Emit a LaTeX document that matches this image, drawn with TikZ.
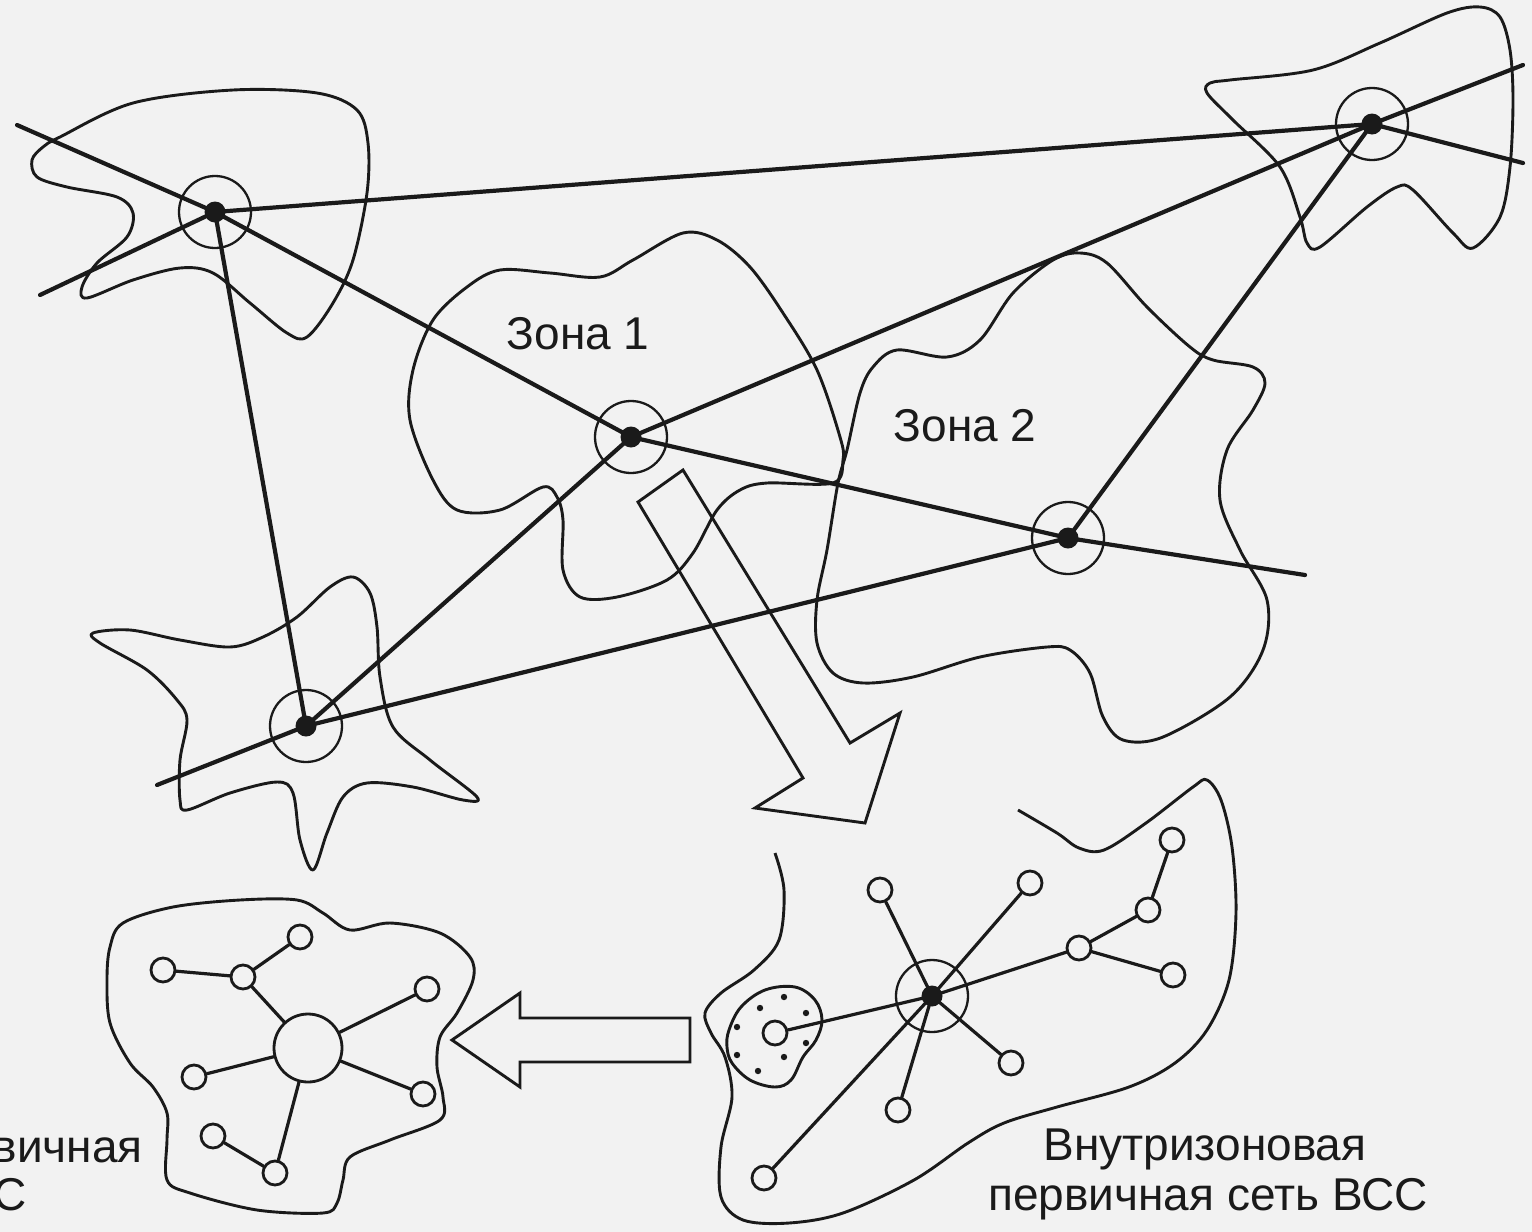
\documentclass[tikz,border=0pt]{standalone}
\usepackage{fontspec}
\setmainfont{Liberation Sans}
\definecolor{bg}{HTML}{F2F2F2}
\definecolor{ink}{HTML}{1A1A1A}
\begin{document}
\begin{tikzpicture}[x=1pt,y=-1pt,
  blob/.style={draw=ink, line width=2.9pt, line join=round},
  link/.style={draw=ink, line width=4.2pt, line cap=round},
  sublink/.style={draw=ink, line width=3.2pt, line cap=round},
  ring/.style={circle, draw=ink, line width=2.3pt, minimum size=72pt, inner sep=0pt},
  hubdot/.style={circle, fill=ink, minimum size=21pt, inner sep=0pt},
  leaf/.style={circle, draw=ink, line width=2.8pt, fill=bg, minimum size=24pt, inner sep=0pt},
  bigleaf/.style={circle, draw=ink, line width=2.8pt, fill=bg, minimum size=68pt, inner sep=0pt},
  lbl/.style={font=\fontsize{46}{50}\selectfont, inner sep=0pt, text=ink},
  hollow/.style={draw=ink, line width=2.9pt, line join=miter},
]
\fill[bg] (0,0) rectangle (1532,1232);
\useasboundingbox (0,0) rectangle (1532,1232);

% ---------- blobs ----------
\draw[blob] plot[smooth cycle, tension=0.55] coordinates {
 (60,137) (133,103) (233,90) (317,93) (357,110) (368,143) (367,193) (353,260)
 (333,303) (307,337) (287,333) (250,303) (213,273) (180,268) (133,280) (87,298)
 (82,287) (97,263) (127,237) (133,213) (117,197) (67,187) (37,177) (32,160) (43,147)};

\draw[blob] plot[smooth cycle, tension=0.55] coordinates {
 (1210,83) (1230,80) (1313,70) (1380,43) (1447,13) (1480,7) (1500,17) (1510,50)
 (1513,100) (1510,167) (1500,217) (1473,248) (1453,233) (1413,190) (1397,187)
 (1367,207) (1320,247) (1307,243) (1300,217) (1280,167) (1233,120) (1207,93)};

\draw[blob] plot[smooth cycle, tension=0.55] coordinates {
 (93,633) (130,630) (180,640) (230,647) (263,637) (297,617) (330,587) (353,577)
 (370,593) (377,627) (380,677) (393,727) (430,760) (477,797) (463,800) (413,787)
 (367,783) (343,797) (327,833) (313,870) (300,840) (293,793) (277,782) (230,793)
 (187,810) (180,800) (180,760) (187,720) (177,700) (147,670) (100,643)};

% Zona 1
\draw[blob] plot[smooth cycle, tension=0.55] coordinates {
 (433,320) (467,287) (500,270) (550,273) (600,277) (633,260) (683,233) (717,240)
 (750,267) (783,313) (817,370) (840,437) (843,460) (833,483) (767,483) (740,490)
 (717,510) (693,553) (667,580) (617,597) (580,597) (563,570) (563,520) (557,497)
 (543,487) (500,510) (457,510) (433,480) (410,420) (413,370)};

% Zona 2
\draw[blob] plot[smooth cycle, tension=0.55] coordinates {
 (860,393) (873,367) (897,350) (947,357) (980,340) (1013,293) (1053,260) (1080,253)
 (1107,263) (1147,307) (1190,347) (1213,360) (1253,367) (1265,383) (1253,410)
 (1227,450) (1220,500) (1240,550) (1267,600) (1263,650) (1230,697) (1163,737)
 (1123,740) (1103,717) (1090,673) (1070,650) (1047,647) (980,657) (913,677)
 (863,683) (833,673) (817,643) (817,600) (827,550) (838,483) (847,450)};

% bottom-right (open) blob
\draw[blob] plot[smooth, tension=0.55] coordinates {
 (1018,810) (1057,833) (1079,848) (1104,850) (1146,823) (1193,787) (1207,780)
 (1221,800) (1232,847) (1236,913) (1229,980) (1207,1030) (1175,1063) (1129,1087)
 (1057,1107) (1004,1123) (968,1143) (914,1180) (843,1213) (789,1223) (743,1220)
 (721,1197) (721,1147) (732,1097) (725,1057) (711,1033) (705,1013) (721,993)
 (754,970) (779,940) (784,890) (775,853)};

% inner dotted blob
\draw[blob] plot[smooth cycle, tension=0.6] coordinates {
 (729,1030) (741,1007) (765,990) (795,987) (815,1000) (822,1020) (816,1040)
 (803,1057) (791,1080) (775,1087) (750,1080) (732,1063) (727,1047)};
\foreach \p in {(784,997),(760,1008),(806,1013),(737,1027),(806,1043),(784,1057),(737,1055),(758,1071)}
  \fill[ink] \p circle (3.2pt);

% bottom-left blob
\draw[blob] plot[smooth cycle, tension=0.55] coordinates {
 (110,947) (123,923) (173,907) (240,900) (297,900) (323,913) (350,930) (390,923)
 (440,933) (470,957) (473,980) (457,1013) (440,1037) (437,1067) (443,1097)
 (440,1120) (390,1140) (350,1157) (343,1180) (337,1203) (323,1213) (257,1210)
 (190,1193) (167,1180) (167,1140) (167,1113) (153,1087) (130,1063) (110,1023) (107,980)};

% ---------- hollow arrows ----------
\draw[hollow] (638,502) -- (683,470) -- (850,743) -- (900,713) -- (865,823)
  -- (755,808) -- (803,778) -- cycle;
\draw[hollow] (690,1018) -- (520,1018) -- (520,993) -- (452,1040) -- (520,1087)
  -- (520,1062) -- (690,1062) -- cycle;

% ---------- hubs ----------
\node[ring] (A) at (215,212) {};
\node[ring] (B) at (1372,124) {};
\node[ring] (C) at (631,437) {};
\node[ring] (D) at (1068,538) {};
\node[ring] (E) at (306,726) {};
\node[ring] (F) at (932,996) {};

\coordinate (a1) at (17,125);
\coordinate (a2) at (40,295);
\coordinate (d1) at (1305,575);
\coordinate (e1) at (157,785);
\coordinate (b1) at (1523,65);
\coordinate (b2) at (1523,163);

\draw[link] (a1) -- (A.center);
\draw[link] (a2) -- (A.center);
\draw[link] (A.center) -- (C.center);
\draw[link] (C.center) -- (D.center);
\draw[link] (D.center) -- (d1);
\draw[link] (A.center) -- (B.center);
\draw[link] (A.center) -- (E.center);
\draw[link] (E.center) -- (C.center);
\draw[link] (e1) -- (E.center);
\draw[link] (E.center) -- (D.center);
\draw[link] (C.center) -- (B.center);
\draw[link] (D.center) -- (B.center);
\draw[link] (B.center) -- (b1);
\draw[link] (B.center) -- (b2);

% ---------- bottom-right sub-network ----------
\node[leaf] (r1) at (880,890) {};
\node[leaf] (r2) at (1030,883) {};
\node[leaf] (r3) at (1172,840) {};
\node[leaf] (r4) at (1148,910) {};
\node[leaf] (r5) at (1079,948) {};
\node[leaf] (r6) at (1173,975) {};
\node[leaf] (r7) at (1011,1063) {};
\node[leaf] (r8) at (898,1110) {};
\node[leaf] (r9) at (764,1178) {};
\node[leaf] (r10) at (775,1033) {};
\foreach \t in {r1,r2,r5,r7,r8,r9,r10}
  \draw[sublink] (F.center) -- (\t);
\draw[sublink] (r5) -- (r4);
\draw[sublink] (r4) -- (r3);
\draw[sublink] (r5) -- (r6);

% ---------- bottom-left sub-network ----------
\node[bigleaf] (G) at (308,1048) {};
\node[leaf] (g1) at (163,970) {};
\node[leaf] (g2) at (243,977) {};
\node[leaf] (g3) at (300,937) {};
\node[leaf] (g4) at (427,989) {};
\node[leaf] (g5) at (194,1077) {};
\node[leaf] (g6) at (423,1094) {};
\node[leaf] (g7) at (213,1136) {};
\node[leaf] (g8) at (275,1173) {};
\draw[sublink] (g1) -- (g2);
\draw[sublink] (g2) -- (g3);
\draw[sublink] (g2) -- (G);
\draw[sublink] (G) -- (g4);
\draw[sublink] (G) -- (g5);
\draw[sublink] (G) -- (g6);
\draw[sublink] (G) -- (g8);
\draw[sublink] (g7) -- (g8);

% hub dots on top
\foreach \h in {A,B,C,D,E,F}
  \node[hubdot] at (\h.center) {};

% ---------- labels ----------
\node[lbl, anchor=base] (z1) at (578,349) {Зона 1};
\node[lbl, anchor=base] (z2) at (965,441) {Зона 2};
\node[lbl, anchor=base] (t1) at (1205,1160) {Внутризоновая};
\node[lbl, anchor=base] (t2) at (1208,1210) {первичная сеть ВСС};
\node[lbl, anchor=base east] (s1) at (143,1162) {первичная};
\node[lbl, anchor=base east] (s2) at (27,1210) {сеть ВСС};
\end{tikzpicture}
\end{document}
